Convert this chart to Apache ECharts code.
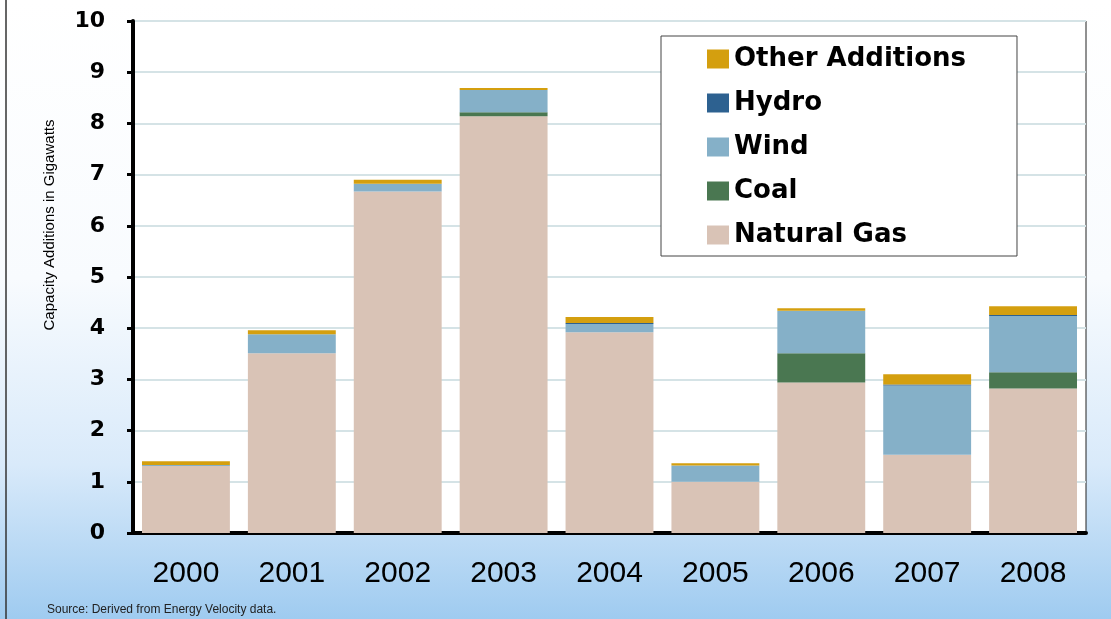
<!DOCTYPE html>
<html>
<head>
<meta charset="utf-8">
<script src="https://cdn.jsdelivr.net/npm/echarts@6/dist/echarts.min.js"></script>
<style>
  html, body { margin: 0; padding: 0; }
  #chart {
    width: 1111px;
    height: 619px;
    background: linear-gradient(to bottom, #ffffff 0%, #f8fbfe 45%, #d9eafa 75%, #9fcbf0 100%);
  }
</style>
</head>
<body>
<div id="chart"></div>
<script>
  // 年份
  var years = ['2000', '2001', '2002', '2003', '2004', '2005', '2006', '2007', '2008'];
  // 各类装机容量 (GW)
  var naturalGas = [1.31, 3.51, 6.67, 8.14, 3.92, 1.00, 2.94, 1.53, 2.82];
  var coal = [0, 0, 0, 0.08, 0, 0, 0.57, 0, 0.32];
  var wind = [0.02, 0.37, 0.15, 0.43, 0.16, 0.32, 0.83, 1.35, 1.10];
  var hydro = [0, 0, 0, 0, 0.02, 0, 0, 0.02, 0.02];
  var other = [0.07, 0.08, 0.08, 0.04, 0.12, 0.04, 0.05, 0.20, 0.17];
  var legendOrder = ['Other Additions', 'Hydro', 'Wind', 'Coal', 'Natural Gas'];

  var chart = echarts.init(document.getElementById('chart'));

  function bar(name, data, color) {
    return {
      name: name,
      type: 'bar',
      stack: 'total',
      barCategoryGap: '17%',
      itemStyle: { color: color },
      emphasis: { disabled: true },
      data: data
    };
  }

  var option = {
    backgroundColor: 'transparent',
    animation: false,
    grid: {
      left: 133,
      right: 25,
      top: 21,
      bottom: 86,
      show: true,
      backgroundColor: '#fff',
      borderColor: '#222',
      borderWidth: 1
    },
    legend: {
      data: legendOrder,
      orient: 'vertical',
      left: 661,
      top: 36,
      padding: [10, 51, 8, 46],
      backgroundColor: '#fff',
      borderColor: '#444',
      borderWidth: 1,
      itemWidth: 22,
      itemHeight: 19,
      itemGap: 18,
      icon: 'rect',
      textStyle: {
        fontFamily: 'DejaVu Sans',
        fontWeight: 'bold',
        fontSize: 26,
        lineHeight: 26,
        color: '#000'
      }
    },
    xAxis: {
      type: 'category',
      data: years,
      axisLine: { lineStyle: { color: '#000', width: 4 } },
      axisTick: { length: 10, lineStyle: { color: '#000', width: 4 } },
      axisLabel: {
        fontFamily: 'Liberation Sans',
        fontSize: 30,
        color: '#000',
        margin: 26
      }
    },
    yAxis: {
      type: 'value',
      min: 0,
      max: 10,
      interval: 1,
      axisLine: { show: true, lineStyle: { color: '#000', width: 4 } },
      axisTick: { show: true, length: 6, lineStyle: { color: '#000', width: 3 } },
      axisLabel: {
        fontFamily: 'DejaVu Sans',
        fontWeight: 'bold',
        fontSize: 22,
        color: '#000',
        margin: 28
      },
      splitLine: { lineStyle: { color: '#d5e3e6', width: 2 } }
    },
    graphic: [
      {
        type: 'line',
        shape: { x1: 6, y1: 0, x2: 6, y2: 619 },
        style: { stroke: '#333', lineWidth: 1.5 }
      },
      {
        type: 'text',
        x: 50,
        y: 225,
        rotation: Math.PI / 2,
        style: {
          text: 'Capacity Additions in Gigawatts',
          fontFamily: 'Liberation Sans',
          fontSize: 15,
          fill: '#000',
          align: 'center',
          verticalAlign: 'middle'
        }
      },
      {
        type: 'text',
        x: 47,
        y: 610,
        style: {
          text: 'Source: Derived from Energy Velocity data.',
          fontFamily: 'Liberation Sans',
          fontSize: 12,
          fill: '#222',
          verticalAlign: 'middle'
        }
      }
    ],
    series: [
      bar('Natural Gas', naturalGas, '#d9c3b6'),
      bar('Coal', coal, '#4a7751'),
      bar('Wind', wind, '#85b0c8'),
      bar('Hydro', hydro, '#2d6190'),
      bar('Other Additions', other, '#d49f0f')
    ]
  };

  chart.setOption(option);
</script>
</body>
</html>
